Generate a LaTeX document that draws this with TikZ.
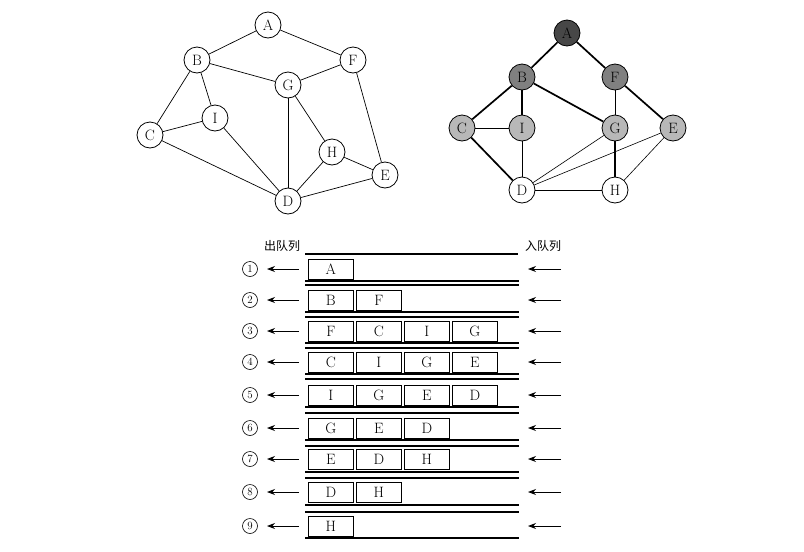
\documentclass[tikz,border=0pt]{standalone}
\usepackage{fontspec}
\newfontfamily\cjk{Noto Sans CJK SC}
\usetikzlibrary{arrows.meta}
\begin{document}
\begin{tikzpicture}[x=1pt,y=-1pt,
  vtx/.style={circle,draw,line width=0.8pt,minimum size=26pt,inner sep=0pt,font=\fontsize{15}{15}\selectfont},
  ledge/.style={line width=0.7pt},
  thick edge/.style={line width=1.7pt},
  thin edge/.style={line width=0.6pt},
  qbox/.style={draw,line width=0.8pt,minimum width=45pt,minimum height=20pt,inner sep=0pt,anchor=west,font=\fontsize{15}{15}\selectfont},
  qline/.style={line width=1.1pt},
  qarrow/.style={-{Stealth[length=8pt,width=6pt]},line width=0.9pt},
  numlab/.style={circle,draw,line width=0.6pt,minimum size=15pt,inner sep=0pt,font=\fontsize{11}{11}\selectfont},
  cjklab/.style={font=\cjk\fontsize{12}{12}\selectfont,inner sep=0pt}]
\useasboundingbox (0,0) rectangle (804,552);
% ---------- left graph ----------
\node[vtx] (A) at (268,25) {A};
\node[vtx] (B) at (197,60) {B};
\node[vtx] (F) at (353,60) {F};
\node[vtx] (G) at (288,85) {G};
\node[vtx] (I) at (215,118) {I};
\node[vtx] (C) at (150,135) {C};
\node[vtx] (H) at (332,152) {H};
\node[vtx] (E) at (385,175) {E};
\node[vtx] (D) at (288,201) {D};
\foreach \u/\v in {A/B,A/F,B/G,F/G,B/C,B/I,C/I,C/D,I/D,G/D,G/H,H/D,H/E,F/E,D/E}
  \draw[ledge] (\u) -- (\v);
% ---------- right graph ----------
\node[vtx,fill=black!72] (rA) at (567,33) {A};
\node[vtx,fill=black!50] (rB) at (522,77) {B};
\node[vtx,fill=black!50] (rF) at (615,77) {F};
\node[vtx,fill=black!28] (rC) at (462,128) {C};
\node[vtx,fill=black!28] (rI) at (522,128) {I};
\node[vtx,fill=black!28] (rG) at (615,128) {G};
\node[vtx,fill=black!28] (rE) at (673,128) {E};
\node[vtx,fill=white] (rD) at (522,190) {D};
\node[vtx,fill=white] (rH) at (615,190) {H};
\foreach \u/\v in {rA/rB,rA/rF,rB/rC,rB/rI,rB/rG,rF/rE,rC/rD,rG/rH}
  \draw[thick edge] (\u) -- (\v);
\foreach \u/\v in {rC/rI,rF/rG,rI/rD,rG/rD,rE/rD,rE/rH,rD/rH}
  \draw[thin edge] (\u) -- (\v);
% ---------- queue ----------
\node[cjklab] (out) at (282,246) {出队列};
\node[cjklab] (in) at (543,246) {入队列};
\draw[qline] (305,254) -- (518,254);
\foreach \ya/\yb in {281/285,312/317,343/348,374/379,407/413,440/446,472/478,505/512}{
  \draw[qline] (305,\ya) -- (519,\ya);
  \draw[qline] (305,\yb) -- (519,\yb);
}
\draw[qline] (305,538) -- (519,538);
\foreach \r/\y/\items in {1/269/{A},2/300/{B,F},3/331/{F,C,I,G},4/362/{C,I,G,E},5/395/{I,G,E,D},6/428/{G,E,D},7/459/{E,D,H},8/492/{D,H},9/526/{H}}{
  \node[numlab] (n\r) at (250,\y) {\r};
  \coordinate (la\r) at (299,\y);
  \coordinate (lb\r) at (267,\y);
  \draw[qarrow] (la\r) -- (lb\r);
  \coordinate (ra\r) at (561,\y);
  \coordinate (rb\r) at (528,\y);
  \draw[qarrow] (ra\r) -- (rb\r);
  \foreach \it [count=\k from 0] in \items
    \node[qbox] (q\r-\k) at (308+48*\k,\y) {\it};
}
\end{tikzpicture}
\end{document}
